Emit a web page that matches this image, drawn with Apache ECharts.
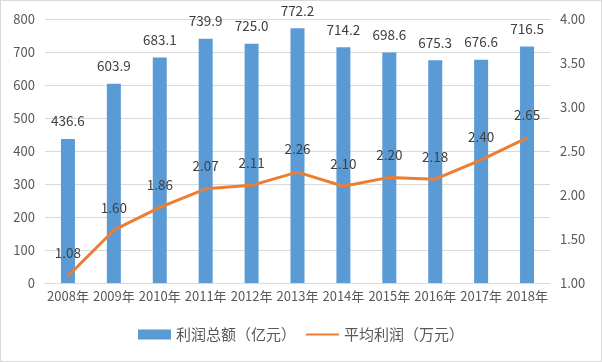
<!DOCTYPE html>
<html><head><meta charset="utf-8">
<script src="https://cdn.jsdelivr.net/npm/echarts@6/dist/echarts.min.js"></script>
<style>html,body{margin:0;padding:0;background:#fff}#c{width:602px;height:362px;box-sizing:border-box;border:1px solid #d9d9d9}</style>
</head><body><div id="c"></div>
<script>
const categories = ['2008年','2009年','2010年','2011年','2012年','2013年','2014年','2015年','2016年','2017年','2018年'];
const totalProfit = [436.6, 603.9, 683.1, 739.9, 725.0, 772.2, 714.2, 698.6, 675.3, 676.6, 716.5];
const avgProfit = [1.08, 1.60, 1.86, 2.07, 2.11, 2.26, 2.10, 2.20, 2.18, 2.40, 2.65];
const leftTicks = {min: 0, max: 800, interval: 100};
const rightTicks = {min: 1, max: 4, interval: 0.5};
const seriesNames = ['利润总额（亿元）', '平均利润（万元）'];

const font = '"Noto Sans CJK SC", "DejaVu Sans", sans-serif';
const chart = echarts.init(document.getElementById('c'), null, {renderer: 'canvas'});
chart.setOption({
  animation: false,
  textStyle: {fontFamily: font},
  grid: {left: 44, right: 51, top: 18, bottom: 78},
  legend: {
    bottom: 14, left: 'center', itemGap: 9, itemWidth: 33, itemHeight: 10,
    textStyle: {fontSize: 15, color: '#595959', fontFamily: font},
    data: [{name: seriesNames[0], icon: 'rect'}, {name: seriesNames[1], itemStyle: {opacity: 0}}]
  },
  xAxis: {
    type: 'category', data: categories,
    axisLine: {lineStyle: {color: '#d9d9d9'}}, axisTick: {show: false},
    axisLabel: {color: '#595959', fontSize: 13, margin: 7, interval: 0}
  },
  yAxis: [{
    type: 'value', min: leftTicks.min, max: leftTicks.max, interval: leftTicks.interval,
    axisLine: {show: false}, axisTick: {show: false},
    axisLabel: {color: '#595959', fontSize: 13, margin: 10},
    splitLine: {lineStyle: {color: '#d9d9d9'}}
  }, {
    type: 'value', min: rightTicks.min, max: rightTicks.max, interval: rightTicks.interval,
    axisLine: {show: false}, axisTick: {show: false},
    axisLabel: {color: '#595959', fontSize: 13, margin: 10, formatter: v => v.toFixed(2)},
    splitLine: {show: false}
  }],
  series: [{
    name: seriesNames[0], type: 'bar', data: totalProfit, barWidth: 14,
    itemStyle: {color: '#5B9BD5'},
    label: {show: true, position: 'top', distance: 11, color: '#404040', fontSize: 13.5, formatter: p => p.value.toFixed(1)}
  }, {
    name: seriesNames[1], type: 'line', yAxisIndex: 1, data: avgProfit,
    symbol: 'circle', symbolSize: 2, showSymbol: true,
    lineStyle: {color: '#ED7D31', width: 3}, itemStyle: {color: '#ED7D31'},
    label: {show: true, position: 'top', distance: 15, color: '#404040', fontSize: 13.5, formatter: p => p.value.toFixed(2)}
  }]
});
</script></body></html>
